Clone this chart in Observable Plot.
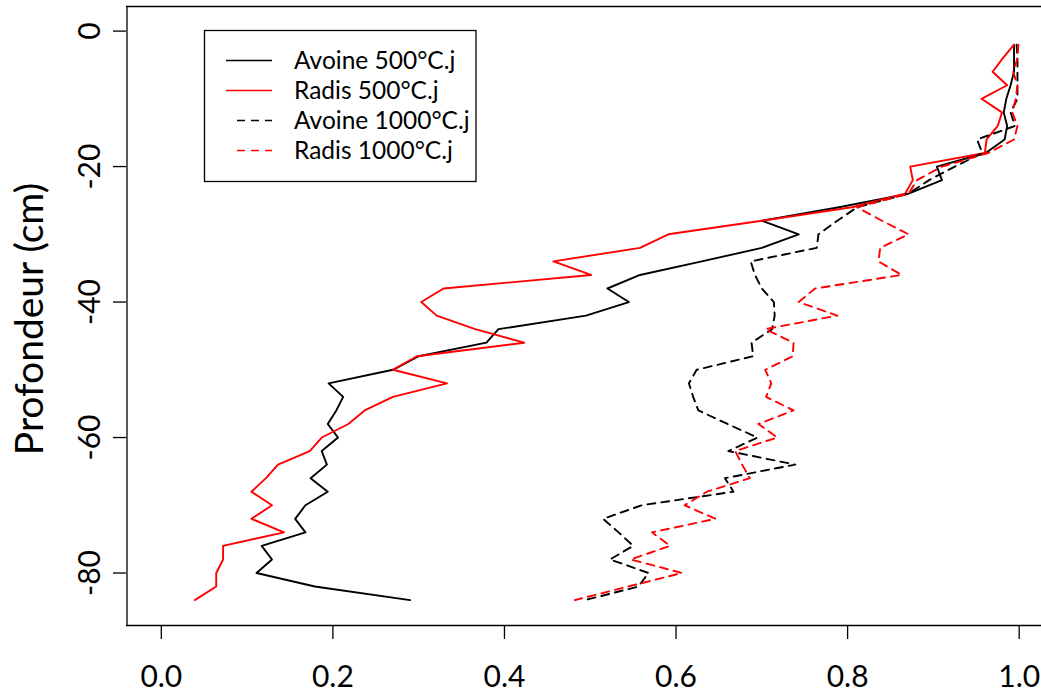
<!DOCTYPE html>
<html>
<head>
<meta charset="utf-8">
<script src="https://cdn.jsdelivr.net/npm/d3@7"></script>
<script src="https://cdn.jsdelivr.net/npm/@observablehq/plot@0.6"></script>
<style>
  html, body { margin: 0; padding: 0; background: #fff; overflow: hidden; }
  #chart svg { display: block; }
</style>
</head>
<body>
<div id="chart"></div>
<script>
// Soil depth (cm, negative downward) of each sampled layer
const depth = [-2, -4, -6, -8, -10, -12, -14, -16, -18, -20, -22, -24, -26, -28,
  -30, -32, -34, -36, -38, -40, -42, -44, -46, -48, -50, -52, -54, -56,
  -58, -60, -62, -64, -66, -68, -70, -72, -74, -76, -78, -80, -82, -84];

// Profile values for each crop and thermal time
const avoine500 = [0.994, 0.994, 0.994, 0.990, 0.985, 0.982, 0.986, 0.983, 0.961, 0.904,
  0.910, 0.871, 0.790, 0.700, 0.743, 0.700, 0.630, 0.558, 0.520, 0.545,
  0.495, 0.393, 0.379, 0.300, 0.270, 0.195, 0.212, 0.204, 0.194, 0.206,
  0.187, 0.193, 0.174, 0.194, 0.168, 0.156, 0.168, 0.117, 0.129, 0.111,
  0.179, 0.290];
const radis500 = [0.994, 0.981, 0.969, 0.986, 0.956, 0.980, 0.975, 0.962, 0.960, 0.873,
  0.876, 0.867, 0.805, 0.700, 0.591, 0.558, 0.457, 0.501, 0.329, 0.303,
  0.321, 0.366, 0.423, 0.298, 0.270, 0.333, 0.270, 0.237, 0.218, 0.187,
  0.173, 0.136, 0.122, 0.105, 0.129, 0.105, 0.143, 0.072, 0.072, 0.064,
  0.064, 0.039];
const avoine1000 = [0.997, 0.998, 0.998, 0.998, 0.998, 0.990, 0.995, 0.951, 0.957, 0.925,
  0.895, 0.871, 0.811, 0.788, 0.766, 0.764, 0.687, 0.692, 0.700, 0.714,
  0.715, 0.712, 0.688, 0.690, 0.624, 0.615, 0.620, 0.626, 0.660, 0.695,
  0.661, 0.739, 0.657, 0.667, 0.560, 0.515, 0.533, 0.550, 0.523, 0.568,
  0.556, 0.494];
const radis1000 = [0.999, 0.998, 0.993, 0.998, 0.996, 0.992, 0.998, 0.994, 0.964, 0.910,
  0.881, 0.871, 0.811, 0.840, 0.871, 0.838, 0.836, 0.863, 0.762, 0.743,
  0.788, 0.704, 0.737, 0.736, 0.704, 0.711, 0.705, 0.737, 0.696, 0.718,
  0.669, 0.677, 0.686, 0.636, 0.610, 0.646, 0.572, 0.593, 0.547, 0.607,
  0.544, 0.482];

const seriesNames = ["Avoine 500°C.j", "Radis 500°C.j", "Avoine 1000°C.j", "Radis 1000°C.j"];
const seriesValues = [avoine500, radis500, avoine1000, radis1000];
const seriesColors = ["black", "red", "black", "red"];
const seriesDashed = [false, false, true, true];

const xTicks = [0, 0.2, 0.4, 0.6, 0.8, 1.0];
const xTickLabels = ["0.0", "0.2", "0.4", "0.6", "0.8", "1.0"];
const yTicks = [0, -20, -40, -60, -80];
const yTickLabels = ["0", "-20", "-40", "-60", "-80"];
const yTitle = "Profondeur (cm)";

const xDomain = [-0.04, 1.04];
const yDomain = [-87.75, 3.63];

const FONT = "Lato, 'Open Sans', sans-serif";
const DASH = "8,6";

// one line per series, each point = (value, depth)
const lineMarks = seriesValues.map((vals, s) =>
  Plot.line(depth.map((d, i) => ({x: vals[i], y: d})), {
    x: "x", y: "y",
    stroke: seriesColors[s],
    strokeWidth: 1.9,
    strokeDasharray: seriesDashed[s] ? DASH : null,
    strokeLinejoin: "round"
  })
);

const plot = Plot.plot({
  width: 1041,
  height: 693,
  marginTop: 6,
  marginBottom: 68,
  marginLeft: 126,
  marginRight: 0,
  style: {fontFamily: FONT, background: "white", color: "black"},
  x: {domain: xDomain, range: [126.5, 1053]},
  y: {domain: yDomain, range: [625, 6]},
  marks: [
    ...lineMarks,
    // box (right side lies beyond the drawing area)
    Plot.ruleY([yDomain[1]], {stroke: "black", strokeWidth: 1.3}),
    Plot.ruleY([yDomain[0]], {stroke: "black", strokeWidth: 1.3}),
    Plot.ruleX([xDomain[0]], {stroke: "black", strokeWidth: 1.3}),
    // x axis
    Plot.axisX(xTicks, {
      anchor: "bottom",
      tickSize: 14,
      tickPadding: 26,
      fontSize: 30,
      strokeWidth: 1.3,
      label: null,
      tickFormat: d => xTickLabels[xTicks.indexOf(d)]
    }),
    // y axis ticks and rotated labels
    Plot.axisY(yTicks, {
      anchor: "left",
      tickSize: 13,
      strokeWidth: 1.3,
      label: null,
      tickFormat: () => ""
    }),
    Plot.text(yTicks, {
      y: d => d,
      text: d => yTickLabels[yTicks.indexOf(d)],
      frameAnchor: "left",
      dx: -36,
      rotate: -90,
      fontSize: 30,
      textAnchor: "middle",
      lineAnchor: "middle",
      fill: "black"
    }),
    Plot.text([yTitle], {
      text: d => d,
      frameAnchor: "left",
      dx: -96,
      dy: 3,
      rotate: -90,
      fontSize: 39,
      textAnchor: "middle",
      lineAnchor: "middle",
      fill: "black"
    })
  ]
});

// legend box in the upper left of the panel
const svg = d3.select(plot);
const lg = svg.append("g")
  .attr("font-family", FONT)
  .attr("font-size", 24.5)
  .attr("text-anchor", "start")
  .attr("fill", "black");
lg.append("rect")
  .attr("x", 204.5).attr("y", 30.5)
  .attr("width", 271.5).attr("height", 151)
  .attr("fill", "white").attr("stroke", "black").attr("stroke-width", 1.3);
seriesNames.forEach((name, i) => {
  const yy = 60.5 + i * 30;
  lg.append("line")
    .attr("x1", seriesDashed[i] ? 237 : 226).attr("x2", 272)
    .attr("y1", yy).attr("y2", yy)
    .attr("stroke", seriesColors[i])
    .attr("stroke-width", 1.7)
    .attr("stroke-dasharray", seriesDashed[i] ? DASH : null);
  lg.append("text")
    .attr("x", 294).attr("y", yy).attr("dy", "0.35em")
    .attr("text-anchor", "start")
    .text(name);
});

document.getElementById("chart").appendChild(plot);
</script>
</body>
</html>
